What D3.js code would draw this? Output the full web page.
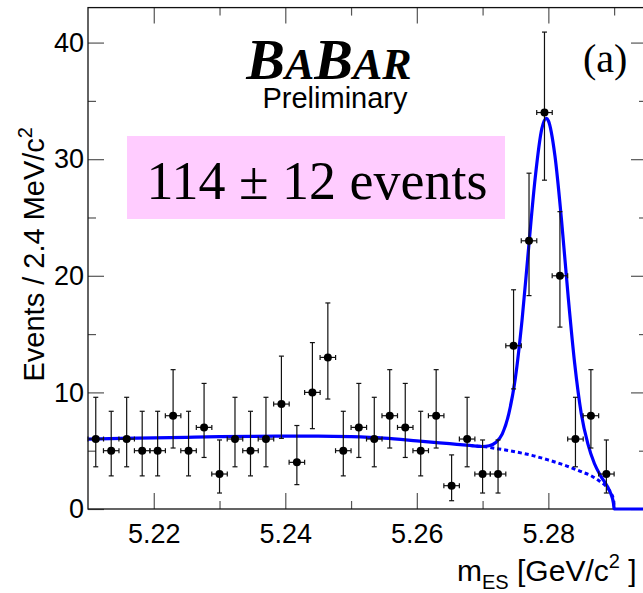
<!DOCTYPE html>
<html lang="en">
<head>
<meta charset="UTF-8">
<title>BaBar mES fit</title>
<script src="https://d3js.org/d3.v7.min.js"></script>
<style>
  body { margin: 0; background: #fff; }
  svg { display: block; }
  text { font-family: "Liberation Sans", Arial, sans-serif; fill: #000; }
  .serif { font-family: "Liberation Serif", "Times New Roman", serif; }
</style>
</head>
<body>
<svg width="643" height="593"></svg>
<script>
// histogram bins (34 bins, 5.21 - 5.29 GeV)
const binCenters = [5.21118, 5.21353, 5.21588, 5.21824, 5.22059, 5.22294, 5.22529, 5.22765,
  5.23000, 5.23235, 5.23471, 5.23706, 5.23941, 5.24176, 5.24412, 5.24647, 5.24882, 5.25118,
  5.25353, 5.25588, 5.25824, 5.26059, 5.26294, 5.26529, 5.26765, 5.27000, 5.27235, 5.27471,
  5.27706, 5.27941, 5.28176, 5.28412, 5.28647, 5.28882];
const counts = [6, 5, 6, 5, 5, 8, 5, 7, 3, 6, 5, 6, 9, 4, 10, 13, 5, 7,
  6, 8, 7, 5, 8, 2, 6, 3, 3, 14, 23, 34, 20, 6, 8, 3];
const errLow = [3.62, 2.84, 3.62, 2.84, 2.84, 5.23, 2.84, 4.42, 1.37, 3.62, 2.84, 3.62, 6.06, 2.09, 6.89, 9.43, 2.84, 4.42,
  3.62, 5.23, 4.42, 2.84, 5.23, 0.71, 3.62, 1.37, 1.37, 10.3, 18.3, 28.2, 15.6, 3.62, 5.23, 1.37];
const errHigh = [9.58, 8.38, 9.58, 8.38, 8.38, 11.95, 8.38, 10.77, 5.92, 9.58, 8.38, 9.58, 13.11, 7.16, 14.27, 17.67, 8.38, 10.77,
  9.58, 11.95, 10.77, 8.38, 11.95, 4.64, 9.58, 5.92, 5.92, 18.8, 28.8, 40.9, 25.5, 9.58, 11.95, 5.92];
const halfBin = 0.00118;

// fit curves
const fitX = [5.210, 5.215, 5.220, 5.225, 5.230, 5.235, 5.240, 5.245, 5.250, 5.255, 5.260, 5.265, 5.268,
  5.270, 5.271, 5.272, 5.273, 5.274, 5.275, 5.276, 5.277, 5.278, 5.279, 5.2797, 5.280, 5.281, 5.282,
  5.283, 5.284, 5.285, 5.286, 5.287, 5.288, 5.289, 5.2895, 5.2899, 5.290, 5.295];
const fitTotal = [6.0, 6.05, 6.1, 6.15, 6.2, 6.23, 6.25, 6.25, 6.2, 6.08, 5.85, 5.6, 5.45,
  5.36, 5.42, 5.7, 6.45, 8.2, 11.3, 16.2, 22.4, 28.4, 32.6, 33.5, 33.3, 30.3, 24.8,
  18.3, 12.5, 8.2, 5.6, 3.9, 2.8, 1.9, 1.3, 0.5, 0, 0];
const bkgX = [5.268, 5.270, 5.2725, 5.275, 5.2775, 5.280, 5.2825, 5.285, 5.2865, 5.2875, 5.2885, 5.289, 5.2895, 5.2899, 5.290];
const bkgY = [5.45, 5.36, 5.15, 4.9, 4.6, 4.2, 3.75, 3.2, 2.85, 2.5, 2.1, 1.8, 1.4, 0.8, 0];

const xMajor = [5.22, 5.24, 5.26, 5.28];
const xMinor = [5.23, 5.25, 5.27, 5.29];
const yMajor = [0, 10, 20, 30, 40];
const yMinor = [5, 15, 25, 35];

const svg = d3.select("svg");
const x = d3.scaleLinear().domain([5.21, 5.295]).range([88, 647]);
const y = d3.scaleLinear().domain([0, 43]).range([509, 7.6]);
const [x0, x1] = x.range(), [y0, y1] = y.range();

// annotation box
svg.append("rect").attr("x", 127).attr("y", 136).attr("width", 378).attr("height", 83)
  .attr("fill", "#ffccff");
svg.append("text").attr("class", "serif").attr("x", 317).attr("y", 199)
  .attr("text-anchor", "middle").attr("font-size", 54).text("114 \u00b1 12 events");

// logo
const logo = svg.append("text").attr("class", "serif").attr("x", 329).attr("y", 79)
  .attr("text-anchor", "middle").attr("font-weight", "bold").attr("font-style", "italic");
[["B", 58], ["A", 44], ["B", 58], ["A", 44], ["R", 44]].forEach(([c, s]) =>
  logo.append("tspan").attr("font-size", s).text(c));
svg.append("text").attr("x", 335).attr("y", 108).attr("text-anchor", "middle")
  .attr("font-size", 29).text("Preliminary");
svg.append("text").attr("class", "serif").attr("x", 583).attr("y", 72)
  .attr("font-size", 40).text("(a)");

// axes (ticks point inward on all four sides)
function styleAxis(g) {
  g.select(".domain").remove();
  g.selectAll("line").attr("stroke", "#555").attr("stroke-width", 1.2);
  g.selectAll("text").attr("font-size", 27).attr("font-family", null).attr("fill", "#000");
}
svg.append("g").attr("transform", `translate(0,${y0})`)
  .call(d3.axisBottom(x).tickValues(xMajor).tickSize(-16).tickPadding(15).tickFormat(d3.format(".2f")))
  .call(styleAxis);
svg.append("g").attr("transform", `translate(0,${y0})`)
  .call(d3.axisBottom(x).tickValues(xMinor).tickSize(-8).tickFormat("")).call(styleAxis);
svg.append("g").attr("transform", `translate(0,${y1})`)
  .call(d3.axisTop(x).tickValues(xMajor).tickSize(-16).tickFormat("")).call(styleAxis);
svg.append("g").attr("transform", `translate(0,${y1})`)
  .call(d3.axisTop(x).tickValues(xMinor).tickSize(-8).tickFormat("")).call(styleAxis);
svg.append("g").attr("transform", `translate(${x0},0)`)
  .call(d3.axisLeft(y).tickValues(yMajor).tickSize(-16).tickPadding(4))
  .call(styleAxis);
svg.append("g").attr("transform", `translate(${x0},0)`)
  .call(d3.axisLeft(y).tickValues(yMinor).tickSize(-8).tickFormat("")).call(styleAxis);
svg.append("g").attr("transform", `translate(${x1},0)`)
  .call(d3.axisRight(y).tickValues(yMajor).tickSize(-16).tickFormat("")).call(styleAxis);
svg.append("g").attr("transform", `translate(${x1},0)`)
  .call(d3.axisRight(y).tickValues(yMinor).tickSize(-8).tickFormat("")).call(styleAxis);

svg.append("rect").attr("x", x0).attr("y", y1).attr("width", x1 - x0).attr("height", y0 - y1)
  .attr("fill", "none").attr("stroke", "#111").attr("stroke-width", 1.3);

// axis titles
const yt = svg.append("text").attr("transform", "translate(44,127) rotate(-90)")
  .attr("text-anchor", "end").attr("font-size", 29);
yt.append("tspan").text("Events / 2.4 MeV/c");
yt.append("tspan").attr("font-size", 20).attr("dy", -12).text("2");

const xt = svg.append("text").attr("x", 457).attr("y", 581).attr("font-size", 30);
xt.append("tspan").text("m");
xt.append("tspan").attr("font-size", 20).attr("dy", 8).text("ES");
xt.append("tspan").attr("dy", -8).text(" [GeV/c");
xt.append("tspan").attr("font-size", 20).attr("dy", -13).text("2");
xt.append("tspan").attr("dy", 13).text(" ]");

// fit curves
const line = d3.line().x(d => x(d[0])).y(d => y(d[1])).curve(d3.curveMonotoneX);
svg.append("path").datum(d3.zip(bkgX, bkgY)).attr("d", line)
  .attr("fill", "none").attr("stroke", "#0000ff").attr("stroke-width", 3)
  .attr("stroke-dasharray", "4,3");
svg.append("path").datum(d3.zip(fitX, fitTotal)).attr("d", line)
  .attr("fill", "none").attr("stroke", "#0000ff").attr("stroke-width", 3.2)
  .attr("stroke-linejoin", "round");

// data points with error bars
const pts = svg.append("g").attr("stroke", "#111").attr("stroke-width", 1.2)
  .selectAll("g").data(d3.range(counts.length)).join("g");
pts.append("line").attr("x1", i => x(binCenters[i])).attr("x2", i => x(binCenters[i]))
  .attr("y1", i => y(errLow[i])).attr("y2", i => y(errHigh[i]));
pts.append("line").attr("x1", i => x(binCenters[i] - halfBin)).attr("x2", i => x(binCenters[i] + halfBin))
  .attr("y1", i => y(counts[i])).attr("y2", i => y(counts[i]));
[errLow, errHigh].forEach(arr => pts.append("line")
  .attr("x1", i => x(binCenters[i]) - 2.5).attr("x2", i => x(binCenters[i]) + 2.5)
  .attr("y1", i => y(arr[i])).attr("y2", i => y(arr[i])));
[-1, 1].forEach(s => pts.append("line")
  .attr("x1", i => x(binCenters[i] + s * halfBin)).attr("x2", i => x(binCenters[i] + s * halfBin))
  .attr("y1", i => y(counts[i]) - 2.5).attr("y2", i => y(counts[i]) + 2.5));
pts.append("circle").attr("cx", i => x(binCenters[i])).attr("cy", i => y(counts[i]))
  .attr("r", 4).attr("fill", "#000").attr("stroke", "none");
</script>
</body>
</html>
